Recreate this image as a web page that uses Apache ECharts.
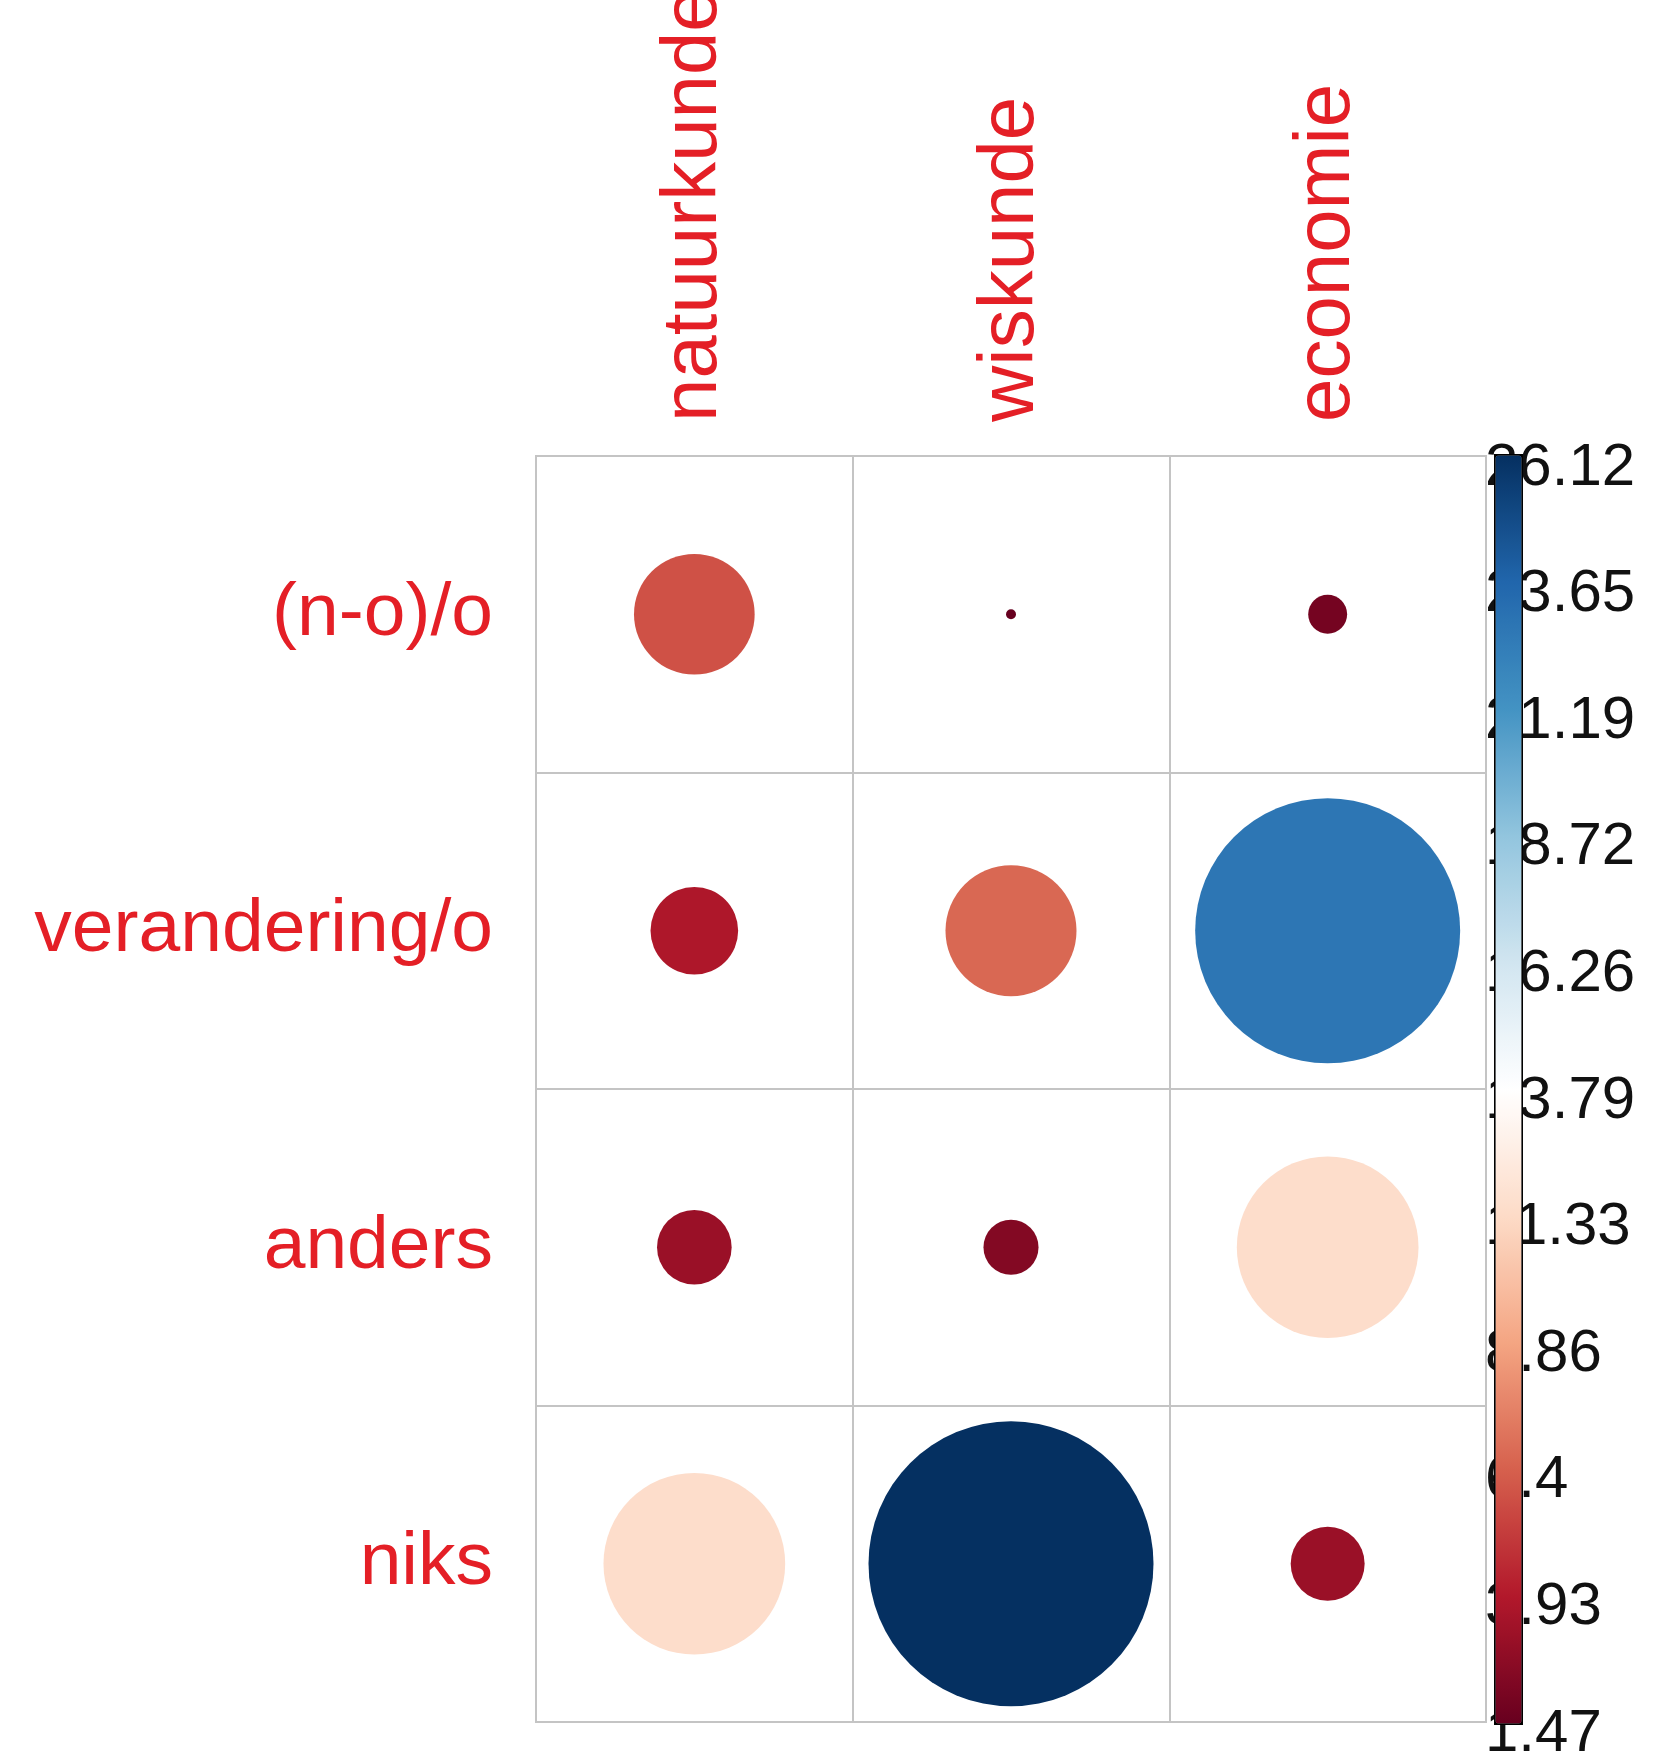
<!DOCTYPE html>
<html>
<head>
<meta charset="utf-8">
<title>corrplot</title>
<script src="https://cdn.jsdelivr.net/npm/echarts@6/dist/echarts.min.js"></script>
<style>
  html, body { margin: 0; padding: 0; background: #fff; }
  #chart { width: 1679px; height: 1759px; }
</style>
</head>
<body>
<div id="chart"></div>
<script>
// columns and rows of the matrix
const subjects = ['natuurkunde', 'wiskunde', 'economie']
const measures = ['(n-o)/o', 'verandering/o', 'anders', 'niks']

// one array per row, values in subject order
const rowNO = [5.89, 1.47, 1.93]
const rowVerandering = [3.80, 6.68, 22.78]
const rowAnders = [3.16, 2.39, 11.49]
const rowNiks = [11.49, 26.12, 3.13]

// colour legend tick labels, bottom to top
const legendLabels = ['1.47', '3.93', '6.4', '8.86', '11.33', '13.79', '16.26', '18.72', '21.19', '23.65', '26.12']
const legendMin = 1.47
const legendMax = 26.12

// RdBu palette as used by corrplot
const palette = ['#67001F', '#B2182B', '#D6604D', '#F4A582', '#FDDBC7', '#FFFFFF',
  '#D1E5F0', '#92C5DE', '#4393C3', '#2166AC', '#053061']

const rows = [rowNO, rowVerandering, rowAnders, rowNiks]
const cells = []
rows.forEach((row, r) => {
  row.forEach((v, c) => cells.push([c, r, v]))
})

const gridLeft = 536
const gridTop = 456
const gridWidth = 950
const gridHeight = 1266
const cellSize = gridWidth / subjects.length

const font = '"Liberation Sans", Arial, sans-serif'
const labelRed = '#e41f26'
const gridGrey = '#c4c4c4'

const chart = echarts.init(document.getElementById('chart'), null, { renderer: 'canvas' })

chart.setOption({
  backgroundColor: '#ffffff',
  animation: false,
  grid: [
    {
      left: gridLeft,
      top: gridTop,
      width: gridWidth,
      height: gridHeight,
      outerBoundsMode: 'none',
      show: true,
      borderColor: gridGrey,
      borderWidth: 2,
      backgroundColor: '#ffffff'
    },
    {
      // holder for the colour legend labels
      left: 1480,
      top: 468,
      width: 1,
      height: 1266,
      outerBoundsMode: 'none'
    }
  ],
  xAxis: [
    {
      type: 'category',
      gridIndex: 0,
      position: 'top',
      data: subjects,
      axisLine: { show: false },
      axisTick: { show: false },
      splitLine: { show: true, interval: 0, lineStyle: { color: gridGrey, width: 2 } },
      axisLabel: {
        interval: 0,
        rotate: -90,
        margin: 34,
        padding: [0, 0, 22, 0],
        color: labelRed,
        fontFamily: font,
        fontSize: 78
      }
    },
    {
      type: 'value',
      gridIndex: 1,
      show: false
    }
  ],
  yAxis: [
    {
      type: 'category',
      gridIndex: 0,
      inverse: true,
      data: measures,
      axisLine: { show: false },
      axisTick: { show: false },
      splitLine: { show: true, interval: 0, lineStyle: { color: gridGrey, width: 2 } },
      axisLabel: {
        interval: 0,
        margin: 43,
        color: labelRed,
        fontFamily: font,
        fontSize: 75
      }
    },
    {
      type: 'category',
      gridIndex: 1,
      position: 'right',
      boundaryGap: false,
      data: legendLabels,
      axisLine: { show: false },
      axisTick: { show: false },
      splitLine: { show: false },
      axisLabel: {
        interval: 0,
        margin: 4,
        color: '#111111',
        fontFamily: font,
        fontSize: 60
      }
    }
  ],
  visualMap: {
    type: 'continuous',
    seriesIndex: 0,
    min: legendMin,
    max: legendMax,
    dimension: 2,
    left: 1494,
    top: 454,
    itemWidth: 26,
    itemHeight: 1268,
    padding: 0,
    borderColor: '#000000',
    borderWidth: 3,
    calculable: false,
    hoverLink: false,
    text: null,
    z: 10,
    inRange: { color: palette }
  },
  series: [
    {
      type: 'scatter',
      xAxisIndex: 0,
      yAxisIndex: 0,
      symbol: 'circle',
      data: cells,
      symbolSize: val => {
        const frac = (val[2] - legendMin) / (legendMax - legendMin)
        return Math.max(10, 0.9 * cellSize * Math.sqrt(Math.max(frac, 0)))
      },
      itemStyle: { opacity: 1 }
    }
  ]
})
</script>
</body>
</html>
